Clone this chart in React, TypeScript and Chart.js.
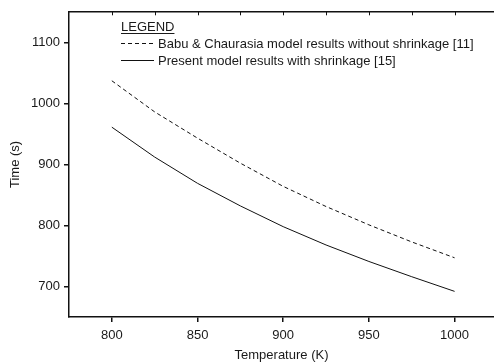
import React, { useEffect, useRef } from "react";
import { Chart, registerables } from "chart.js";

Chart.register(...registerables);

const temperatures = [800, 825, 850, 875, 900, 925, 950, 975, 1000];
const withoutShrinkage = [1037, 986, 943, 902, 864, 831, 801, 773, 747];
const withShrinkage = [961, 912, 869, 832, 798, 768, 741, 716, 692];
const xTicks = [800, 850, 900, 950, 1000];
const yTicks = [700, 800, 900, 1000, 1100];
const topMinorTicks = [800, 825, 850, 875, 900, 925, 950, 975, 1000];
const legendTitle = "LEGEND";
const legendLabels = [
  "Babu & Chaurasia model results without shrinkage [11]",
  "Present model results with shrinkage [15]",
];

const FONT = "Liberation Sans, Arial, Helvetica, sans-serif";
const INK = "#111";
const TEXT = "#1a1a1a";

const framePlugin = {
  id: "frameAndLegend",
  afterDraw(chart: any) {
    const { ctx, chartArea } = chart;
    const xs = chart.scales.x;
    ctx.save();
    ctx.strokeStyle = INK;
    ctx.lineWidth = 1.5;
    ctx.beginPath();
    ctx.moveTo(chartArea.left, chartArea.top);
    ctx.lineTo(chartArea.right, chartArea.top);
    ctx.stroke();
    ctx.lineWidth = 1;
    topMinorTicks.forEach((v) => {
      const px = Math.round(xs.getPixelForValue(v)) + 0.5;
      ctx.beginPath();
      ctx.moveTo(px, chartArea.top);
      ctx.lineTo(px, chartArea.top + 3.5);
      ctx.stroke();
    });
    const lx = Math.round(chartArea.left + 52);
    const top = Math.round(chartArea.top);
    ctx.fillStyle = TEXT;
    ctx.font = `13px ${FONT}`;
    ctx.textBaseline = "alphabetic";
    ctx.fillText(legendTitle, lx, top + 19);
    const tw = ctx.measureText(legendTitle).width;
    ctx.lineWidth = 1;
    ctx.strokeStyle = TEXT;
    ctx.beginPath();
    ctx.moveTo(lx, top + 21.5);
    ctx.lineTo(lx + tw, top + 21.5);
    ctx.stroke();
    const rows = [
      { dash: [4, 3], y: top + 31.5, label: legendLabels[0] },
      { dash: [], y: top + 48.5, label: legendLabels[1] },
    ];
    rows.forEach((r) => {
      ctx.setLineDash(r.dash);
      ctx.strokeStyle = INK;
      ctx.beginPath();
      ctx.moveTo(lx, r.y);
      ctx.lineTo(lx + 33, r.y);
      ctx.stroke();
      ctx.setLineDash([]);
      ctx.fillText(r.label, lx + 37, r.y + 4.5);
    });
    ctx.restore();
  },
};

export default function App() {
  const ref = useRef<HTMLCanvasElement | null>(null);
  useEffect(() => {
    document.body.style.margin = "0";
    if (!ref.current) return;
    const chart = new Chart(ref.current, {
      type: "line",
      data: {
        datasets: [
          {
            label: legendLabels[0],
            data: temperatures.map((t, i) => ({ x: t, y: withoutShrinkage[i] })),
            borderColor: INK,
            borderWidth: 1,
            borderDash: [4, 3],
            pointRadius: 0,
            tension: 0,
          },
          {
            label: legendLabels[1],
            data: temperatures.map((t, i) => ({ x: t, y: withShrinkage[i] })),
            borderColor: INK,
            borderWidth: 1,
            pointRadius: 0,
            tension: 0,
          },
        ],
      },
      options: {
        responsive: false,
        animation: false,
        layout: { padding: { top: 10, right: 0, left: 0, bottom: 0 } },
        plugins: { legend: { display: false }, tooltip: { enabled: false } },
        scales: {
          x: {
            type: "linear",
            min: 775,
            max: 1023,
            afterBuildTicks: (s: any) => {
              s.ticks = xTicks.map((v) => ({ value: v }));
            },
            afterFit: (s: any) => {
              s.height = 46;
            },
            grid: { drawOnChartArea: false, drawTicks: true, tickLength: 5, color: INK, lineWidth: 1.5 },
            border: { display: true, color: INK, width: 1.5 },
            ticks: {
              color: TEXT,
              font: { family: FONT, size: 13 },
              padding: 6,
              maxRotation: 0,
              callback: (v: any) => String(v),
            },
            title: {
              display: true,
              text: "Temperature (K)",
              color: TEXT,
              font: { family: FONT, size: 13 },
              padding: { top: 0, bottom: 0 },
            },
          },
          y: {
            type: "linear",
            min: 650,
            max: 1150,
            afterBuildTicks: (s: any) => {
              s.ticks = yTicks.map((v) => ({ value: v }));
            },
            afterFit: (s: any) => {
              s.width = 69;
            },
            grid: { drawOnChartArea: false, drawTicks: true, tickLength: 5, color: INK, lineWidth: 1.5 },
            border: { display: true, color: INK, width: 1.5 },
            ticks: {
              color: TEXT,
              font: { family: FONT, size: 13 },
              padding: 4,
              callback: (v: any) => String(v),
            },
            title: {
              display: true,
              text: "Time (s)",
              color: TEXT,
              font: { family: FONT, size: 13 },
              padding: { top: 8, bottom: 0 },
            },
          },
        },
      },
      plugins: [framePlugin],
    } as any);
    return () => chart.destroy();
  }, []);
  return (
    <div style={{ width: 494, height: 363 }}>
      <canvas ref={ref} width={494} height={363} style={{ display: "block", width: 494, height: 363 }} />
    </div>
  );
}
